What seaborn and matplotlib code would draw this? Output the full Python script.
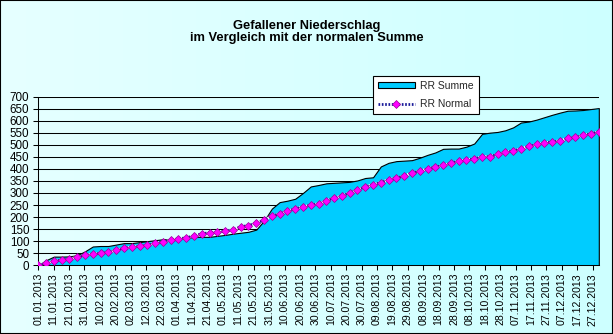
import numpy as np
import pandas as pd
import matplotlib
matplotlib.use("Agg")
import matplotlib.pyplot as plt
import seaborn as sns
from matplotlib.patches import Patch, Rectangle
from matplotlib.lines import Line2D
from matplotlib.colors import LinearSegmentedColormap

# Cumulative precipitation 2013 (mm), sampled in ~5-day steps from 01.01. to 31.12.
rr_summe = [0, 21, 36, 36, 37, 42, 58, 78, 80, 80,
            86, 92, 92, 96, 100, 104, 108, 108, 110, 113,
            118, 118, 118, 122, 126, 131, 135, 139, 148, 185,
            235, 262, 268, 276, 300, 327, 333, 340, 342, 344,
            346, 352, 362, 365, 410, 425, 432, 434, 436, 446,
            458, 468, 483, 484, 484, 492, 505, 545, 550, 553,
            560, 572, 592, 596, 604, 614, 624, 633, 641, 642,
            644, 648, 652]

# Long-term normal cumulative precipitation (mm) at the same dates
rr_normal = [0, 8, 17, 22, 26, 33, 42, 46, 50, 54,
             62, 71, 75, 79, 83, 92, 96, 104, 110, 114,
             122, 131, 135, 137, 142, 146, 160, 165, 175, 187,
             204, 214, 225, 235, 242, 250, 255, 268, 279, 287,
             301, 312, 325, 335, 343, 355, 362, 371, 383, 390,
             400, 408, 414, 423, 432, 437, 442, 450, 451, 460,
             468, 475, 483, 493, 501, 508, 512, 516, 526, 530,
             540, 546, 554]

# Day of year (0 = 01.01.2013) for each sample
tage = np.linspace(0, 364, len(rr_summe))

tick_tage = list(range(0, 361, 10))
tick_labels = ["01.01.2013", "11.01.2013", "21.01.2013", "31.01.2013", "10.02.2013",
               "20.02.2013", "02.03.2013", "12.03.2013", "22.03.2013", "01.04.2013",
               "11.04.2013", "21.04.2013", "01.05.2013", "11.05.2013", "21.05.2013",
               "31.05.2013", "10.06.2013", "20.06.2013", "30.06.2013", "10.07.2013",
               "20.07.2013", "30.07.2013", "09.08.2013", "19.08.2013", "29.08.2013",
               "08.09.2013", "18.09.2013", "28.09.2013", "08.10.2013", "18.10.2013",
               "28.10.2013", "07.11.2013", "17.11.2013", "27.11.2013", "07.12.2013",
               "17.12.2013", "27.12.2013"]
y_ticks = list(range(0, 701, 50))

titel_1 = "Gefallener Niederschlag"
titel_2 = "im Vergleich mit der normalen Summe"

sns.set_theme(style="white")
plt.rcParams["font.family"] = ["Liberation Sans", "DejaVu Sans"]

df = pd.DataFrame({"Tag": tage, "RR Summe": rr_summe, "RR Normal": rr_normal})

fig = plt.figure(figsize=(6.13, 3.34), dpi=100)

# pale cyan background with a soft horizontal gradient
bg = fig.add_axes([0, 0, 1, 1], zorder=-10)
grad = np.linspace(0, 1, 256).reshape(1, -1)
cmap = LinearSegmentedColormap.from_list("bg", ["#E6FFFF", "#CDFFFF"])
bg.imshow(grad, aspect="auto", cmap=cmap, extent=[0, 1, 0, 1])
bg.axis("off")
fig.patches.append(Rectangle((0, 0), 1, 1, transform=fig.transFigure,
                             fill=False, edgecolor="black", lw=1.5))

ax = fig.add_axes([38.3 / 613, 1 - 265.3 / 334, 560.5 / 613, 168.8 / 334])
ax.patch.set_alpha(0)

# area of the measured cumulative sum
ax.fill_between(df["Tag"], df["RR Summe"], facecolor="#00CCFF",
                edgecolor="black", lw=0.8, zorder=2)

# normal curve: white underlay + navy dotted line with magenta diamonds
line_kw = dict(lw=2.0, linestyle=(0, (0.6, 0.6)))
mark_kw = dict(marker="D", markersize=4.3, markerfacecolor="#FF00FF",
               markeredgecolor="#990099", markeredgewidth=0.5)
sns.lineplot(data=df, x="Tag", y="RR Normal", ax=ax, color="white",
             lw=2.0, zorder=3)
sns.lineplot(data=df, x="Tag", y="RR Normal", ax=ax, color="#1a1a99",
             zorder=4, **line_kw, **mark_kw)

ax.set_xlim(0, 364)
ax.set_ylim(0, 700)
ax.set_xlabel("")
ax.set_ylabel("")
ax.set_axisbelow(True)
ax.yaxis.grid(True, color="black", lw=0.75)
ax.xaxis.grid(False)

for side in ("top", "right"):
    ax.spines[side].set_visible(False)
for side in ("left", "bottom"):
    ax.spines[side].set_color("black")
    ax.spines[side].set_linewidth(0.75)

ax.set_yticks(y_ticks)
ax.set_yticklabels([str(v) for v in y_ticks])
ax.set_xticks(tick_tage)
ax.set_xticklabels(tick_labels, rotation=90)
ax.tick_params(axis="both", bottom=True, left=True, direction="out",
               length=3.5, width=0.75, color="black", labelcolor="black")
ax.tick_params(axis="x", labelsize=7.6, pad=2)
ax.tick_params(axis="y", labelsize=8.4, pad=3)

fig.text(0.5, 1 - 28.7 / 334, titel_1, ha="center", va="baseline",
         fontsize=9.3, fontweight="bold", color="black")
fig.text(0.5, 1 - 40.8 / 334, titel_2, ha="center", va="baseline",
         fontsize=9.3, fontweight="bold", color="black")

h_summe = Patch(facecolor="#00CCFF", edgecolor="black", lw=0.8)
h_norm_bg = Line2D([], [], color="white", lw=2.0)
h_norm = Line2D([], [], color="#1a1a99", **line_kw, **mark_kw)
leg = fig.legend([h_summe, (h_norm_bg, h_norm)], ["RR Summe", "RR Normal"],
                 loc="upper left", bbox_to_anchor=(373 / 613, 1 - 76 / 334),
                 bbox_transform=fig.transFigure, borderaxespad=0,
                 fontsize=7.5, frameon=True, fancybox=False, framealpha=1,
                 facecolor="white", edgecolor="black", handlelength=3.6,
                 handleheight=0.5, handletextpad=0.5, labelspacing=0.8,
                 borderpad=0.45, numpoints=1)
leg.get_frame().set_linewidth(0.8)

fig.savefig("out.png", dpi=100)
